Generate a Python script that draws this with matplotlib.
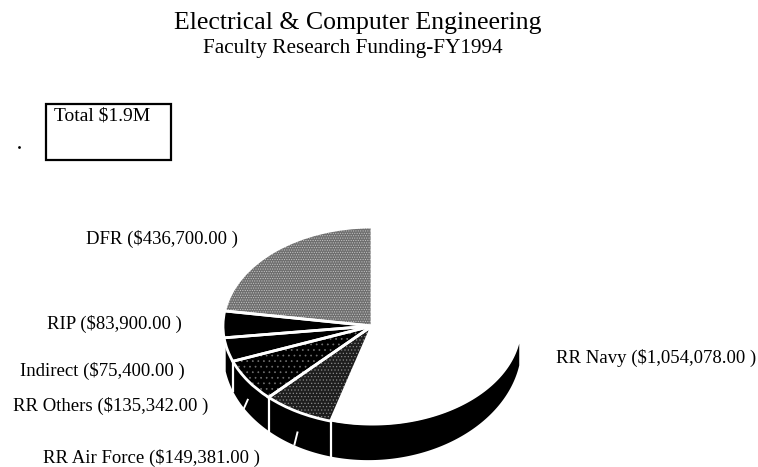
import matplotlib
matplotlib.use('Agg')
import matplotlib.pyplot as plt
from matplotlib.patches import Rectangle
import numpy as np

W, H = 758, 467

sources = ['DFR', 'RIP', 'Indirect', 'RR Others', 'RR Air Force', 'RR Navy']
funding = [436700, 83900, 75400, 135342, 149381, 1054078]
labels = ['DFR ($436,700.00 )', 'RIP ($83,900.00 )', 'Indirect ($75,400.00 )',
          'RR Others ($135,342.00 )', 'RR Air Force ($149,381.00 )',
          'RR Navy ($1,054,078.00 )']
label_x = [86, 47, 20, 13, 43, 556]
label_y = [239, 324, 371, 406, 458, 358]
shades = ['#6e6e6e', '#000000', '#000000', '#000000', '#1e1e1e', '#ffffff']
dot_colors = ['#c4c4c4', 'black', 'black', '#707070', '#8a8a8a', 'white']
dots = ['.......', None, None, '...', '.....', None]

plt.rcParams['font.family'] = ['Liberation Serif', 'DejaVu Serif']
plt.rcParams['hatch.linewidth'] = 0.5

fig = plt.figure(figsize=(W / 100, H / 100), dpi=100, facecolor='white')

# full figure axes in pixels for the text and the box
bg = fig.add_axes([0, 0, 1, 1])
bg.set_xlim(0, W)
bg.set_ylim(H, 0)
bg.axis('off')

bg.text(358, 23, 'Electrical & Computer Engineering', fontsize=18.5, ha='center', va='center')
bg.text(353, 49, 'Faculty Research Funding-FY1994', fontsize=15.3, ha='center', va='center')

bg.add_patch(Rectangle((46, 104), 125, 56, fill=False, edgecolor='black', lw=1.6))
bg.text(54, 116, 'Total $1.9M', fontsize=14, ha='left', va='center')

for name, x, y in zip(labels, label_x, label_y):
    bg.text(x, y, name, fontsize=13.5, ha='left', va='center')

# scan specks
bg.scatter([19, 381], [147, 372], s=4, color='black', linewidths=0)

# pie squashed to an ellipse
cx, cy, rx, ry = 372, 326, 149, 99
ax = fig.add_axes([(cx - rx) / W, 1 - (cy + ry + 45) / H, 2 * rx / W, (2 * ry + 45) / H])
ax.set_facecolor('none')

shares = np.array(funding) / sum(funding)
edges = 90 + 360 * np.concatenate([[0], np.cumsum(shares)])


def wall_depth(t):
    # the wall is deepest near the front and thins out to the right
    return 35 / ry * (0.65 + 0.35 * np.cos(t - np.radians(255)))


# side wall, from the end of RIP round to the cut on the right
theta = np.radians(np.linspace(edges[2] + 3, 350, 300))
ax.fill_between(np.cos(theta), np.sin(theta), np.sin(theta) - wall_depth(theta), color='black', lw=0)

# textured slices first, white outlines on top
wedges, _ = ax.pie(funding, startangle=90, radius=1, colors=shades, wedgeprops={'linewidth': 0})
for w, d, c in zip(wedges, dots, dot_colors):
    w.set_edgecolor(c)
    if d:
        w.set_hatch(d)
outlines, _ = ax.pie(funding[:-1] + [funding[-1]], startangle=90, radius=1,
                     wedgeprops={'fill': False, 'edgecolor': 'white', 'linewidth': 2})
outlines[-1].set_visible(False)

# white splits in the wall
for a in edges[3:6]:
    t = np.radians(a)
    ax.plot([np.cos(t)] * 2, [np.sin(t), np.sin(t) - wall_depth(t)], color='white', lw=1.6)

# short leader ticks at the middle of the RR Others and RR Air Force slices
for i in [3, 4]:
    t = np.radians((edges[i] + edges[i + 1]) / 2)
    x0, y0 = np.cos(t), np.sin(t) - wall_depth(t) * 0.6
    ax.plot([x0, x0 + 0.04 * np.cos(t)], [y0, y0 - wall_depth(t) * 0.35], color='white', lw=1.4)

ax.set_aspect('auto')
ax.set_xlim(-1, 1)
ax.set_ylim(-1 - 45 / ry, 1)
ax.axis('off')

fig.savefig('out.png', dpi=100)
